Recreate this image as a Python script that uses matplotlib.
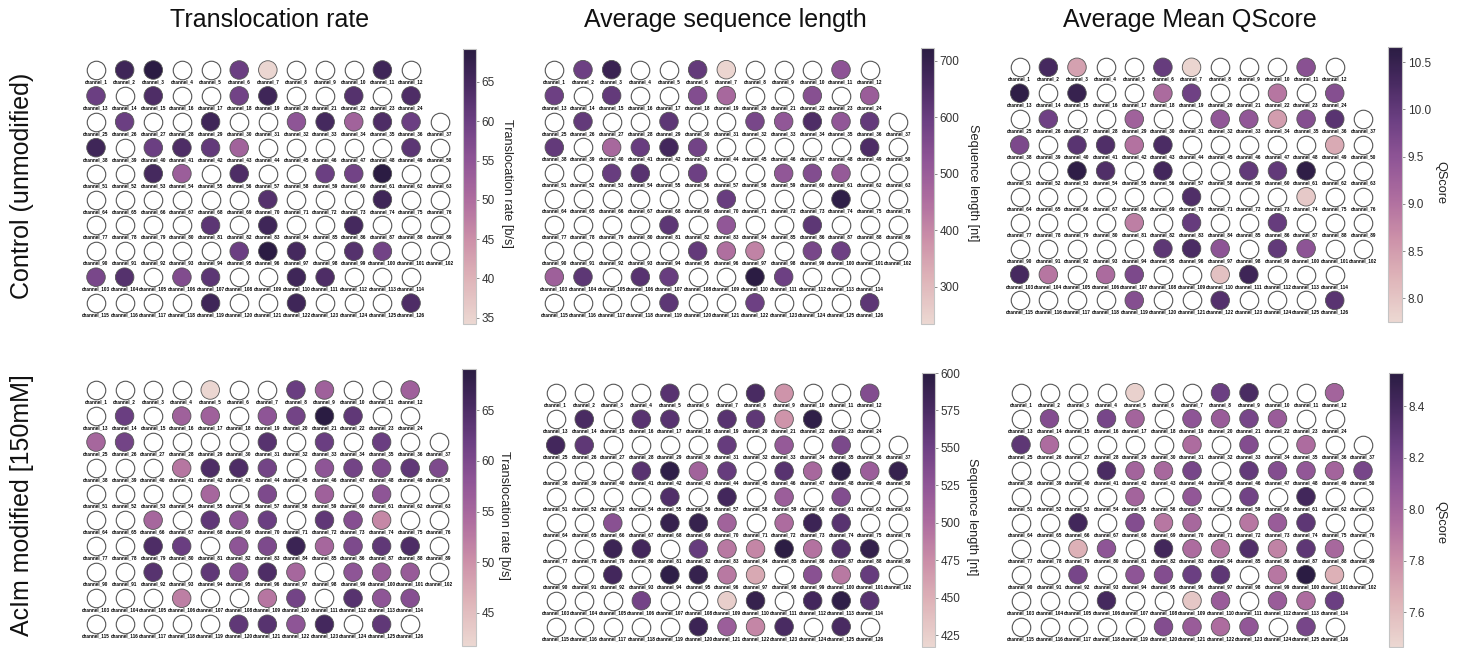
import matplotlib
matplotlib.use("Agg")
import matplotlib.pyplot as plt
import numpy as np
from matplotlib.cm import ScalarMappable
from matplotlib.colors import LinearSegmentedColormap, Normalize

n = np.nan
W, H = 1465, 648

# channels per row of the flow cell
row_sizes = [12, 12, 13, 13, 13, 13, 13, 13, 12, 12]

rate_control = [
    n, 66, 69, n, n, 60, 34.5, n, n, n, 66, n,
    60, n, 64, n, n, 59, 66, n, n, 63, n, 64,
    n, 60, n, n, 66, n, n, 55, 65, 52, 64, 60, n,
    66, n, 60, 64, 61, 52, n, n, n, n, n, 62, n,
    n, n, 65, 53, n, 64, n, n, 60, 59, 69, n, n,
    n, n, n, n, n, n, 63, n, n, n, 66, n, n,
    n, n, n, n, 62, n, 66, n, n, 65, n, n, n,
    n, n, n, n, n, 60, 69, 65, n, 63, 59, n, n,
    58, 63, n, 57, 62, n, n, 66, 64, n, n, n,
    n, n, n, n, 66, n, n, 66, n, n, n, 64,
]
length_control = [
    n, 590, 690, n, n, 610, 240, n, n, n, 530, n,
    590, n, 610, n, n, 550, 470, n, n, 540, n, 500,
    n, 610, n, n, 620, n, n, 570, 520, 650, 520, 610, n,
    610, n, 470, 600, 670, 580, n, n, n, n, n, 650, n,
    n, n, 600, 630, n, 590, n, n, 520, 550, 510, n, n,
    n, n, n, n, n, n, 600, n, n, n, 710, n, n,
    n, n, n, n, 620, n, 520, n, n, 620, n, n, n,
    n, n, n, n, n, 610, 450, 410, n, 570, 590, n, n,
    490, 620, n, 630, 600, n, n, 720, 590, n, n, n,
    n, n, n, n, 620, n, n, 590, n, n, n, 620,
]
qscore_control = [
    n, 10.3, 8.45, n, n, 9.95, 7.8, n, n, n, 9.55, n,
    10.6, n, 10.5, n, n, 9.1, 9.85, n, n, 8.95, n, 9.6,
    n, 9.85, n, n, 9.25, n, n, 9.45, 9.45, 8.5, 9.6, 10.1, n,
    9.7, n, 10.1, 10.2, 9.0, 10.25, n, n, n, n, n, 8.35, n,
    n, n, 10.6, 10.2, n, 10.35, n, n, 10.0, 10.0, 10.6, n, n,
    n, n, n, n, n, n, 10.2, n, n, n, 7.95, n, n,
    n, n, n, n, 8.85, n, 9.95, n, n, 9.95, n, n, n,
    n, n, n, n, n, 10.05, 10.25, 9.5, n, 10.0, 9.5, n, n,
    10.3, 8.95, n, 9.1, 9.7, n, n, 8.05, 10.4, n, n, n,
    n, n, n, n, 9.6, n, n, 10.15, n, n, n, 10.1,
]
rate_aclm = [
    n, n, n, n, 42, n, n, 62, 56, n, n, 56,
    n, 62, n, 56, 56, n, 58, 61, 69, 63, n, n,
    55, 61, n, n, n, n, 64, n, 62, n, 62, n, n,
    n, n, n, 53, 65, 65, 61, n, 58, 61, 60, 63, 60,
    n, n, n, n, 55, n, 60, n, 56, n, 58, n, n,
    n, n, 55, n, 63, 58, 62, n, 63, 59, 51, n, n,
    n, n, 65, 62, n, 58, 60, 67, 55, 60, 63, 65, n,
    n, n, 64, n, 63, 59, 65, 55, n, 58, 57, 57, n,
    n, n, n, 52, n, n, 53, 61, n, 64, 58, 59,
    n, n, n, n, n, 63, 64, 58, 66, n, 63, n,
]
length_aclm = [
    n, n, n, n, 565, n, n, 575, 470, n, n, 535,
    n, 575, n, 565, 565, n, 565, 560, 470, 595, n, n,
    580, 560, n, n, n, n, 555, n, 520, n, 540, n, n,
    n, n, n, 565, 595, 510, 555, n, 565, 505, 595, 515, 590,
    n, n, n, n, 570, n, 580, n, 515, n, 535, n, n,
    n, n, 530, n, 590, 590, 510, n, 500, 585, 565, n, n,
    n, n, 585, 580, n, 555, 490, 480, 598, 495, 570, 592, n,
    n, n, 580, n, 595, 590, 490, 455, n, 530, 490, 555, n,
    n, n, n, 545, n, n, 425, 590, n, 580, 595, 565,
    n, n, n, n, n, 585, 515, 480, 575, n, 575, n,
]
qscore_aclm = [
    n, n, n, n, 7.5, n, n, 8.25, 8.38, n, n, 8.0,
    n, 8.15, n, 8.2, 8.0, n, 8.1, 8.05, 8.2, 8.05, n, n,
    8.3, 7.95, n, n, n, n, 7.95, n, 8.15, n, 7.95, n, n,
    n, n, n, 8.38, 8.0, 7.98, 8.2, n, 8.28, 8.15, 8.08, 8.0, 8.2,
    n, n, n, n, 8.0, n, 8.08, n, 8.22, n, 8.42, n, n,
    n, n, 8.42, n, 8.15, 7.9, 7.98, n, 7.9, 8.05, 8.3, n, n,
    n, n, 7.65, 8.1, n, 8.42, 7.95, 7.92, 8.35, 7.85, 8.3, 7.98, n,
    n, n, 8.2, n, 8.1, 8.15, 8.25, 8.3, n, 7.9, 8.52, 7.65, n,
    n, n, n, 8.4, n, n, 7.55, 8.05, n, 8.05, 7.95, 8.25,
    n, n, n, n, n, 8.15, 8.05, 7.95, 8.08, n, 8.2, n,
]

titles = ["Translocation rate", "Average sequence length", "Average Mean QScore"]
row_labels = ["Control (unmodified)", "AcIm modified [150mM]"]

plt.rcParams["font.family"] = ["Liberation Sans", "DejaVu Sans"]

# colours picked off the reference colorbar
cmap = LinearSegmentedColormap.from_list("plate", [
    (0.0, "#ecd8d2"), (0.166, "#deb3b8"), (0.31, "#cb8fa8"), (0.45, "#ae6d9f"),
    (0.594, "#8f5596"), (0.737, "#6b3f82"), (0.88, "#46295f"), (1.0, "#2a1c42"),
])


def px_axes(fig, left, top, right, bottom):
    return fig.add_axes([left / W, 1 - bottom / H, (right - left) / W, (bottom - top) / H])


def draw_plate(fig, values, grid, cbar_box, limits, ticks, label, label_pos):
    x0, y0, dx, dy = grid
    ax = px_axes(fig, x0 - dx, y0 - dy, x0 + 13 * dx, y0 + 10 * dy)
    ax.set_xlim(-1, 13)
    ax.set_ylim(10, -1)
    ax.axis("off")

    cols, rows, names = [], [], []
    number = 1
    for r, size in enumerate(row_sizes):
        for c in range(size):
            cols.append(c)
            rows.append(r)
            names.append(f"channel_{number}")
            number += 1

    norm = Normalize(limits[0], limits[1])
    vals = np.array(values, dtype=float)
    empty = np.isnan(vals)
    ax.scatter(np.array(cols)[empty], np.array(rows)[empty], s=178, c="white",
               edgecolors="#555555", linewidths=0.8)
    ax.scatter(np.array(cols)[~empty], np.array(rows)[~empty], s=178, c=vals[~empty],
               cmap=cmap, norm=norm, edgecolors="#555555", linewidths=0.6)
    for c, r, name in zip(cols, rows, names):
        ax.text(c, r + 0.46, name, ha="center", va="center", fontsize=3.3,
                fontweight="bold", color="black")

    cax = px_axes(fig, *cbar_box)
    cb = fig.colorbar(ScalarMappable(norm=norm, cmap=cmap), cax=cax)
    cb.set_ticks(ticks)
    cb.ax.tick_params(length=2, width=0.6, color="#777777", pad=2, labelsize=8.5,
                      labelcolor="#333333")
    cb.outline.set_edgecolor("#c4c4c4")
    cb.outline.set_linewidth(0.8)
    fig.text(label_pos[0] / W, 1 - label_pos[1] / H, label, rotation=270, ha="center",
             va="center", fontsize=9.2, color="#222222")


fig = plt.figure(figsize=(W / 100, H / 100), dpi=100, facecolor="white")

draw_plate(fig, rate_control, (96, 70, 28.64, 25.9), (463, 49, 476, 324), (34.2, 69.2),
           [35, 40, 45, 50, 55, 60, 65], "Translocation rate [b/s]", (507, 183))
draw_plate(fig, length_control, (554.3, 69.7, 28.67, 25.9), (921, 48, 934, 324), (234, 723),
           [300, 400, 500, 600, 700], "Sequence length [nt]", (973, 183))
draw_plate(fig, qscore_control, (1019.7, 67.3, 28.64, 25.9), (1388, 47, 1402, 322), (7.75, 10.66),
           [8.0, 8.5, 9.0, 9.5, 10.0, 10.5], "QScore", (1440, 183))
draw_plate(fig, rate_aclm, (96, 390, 28.56, 26.03), (462, 369, 476, 646), (41.7, 69.1),
           [45, 50, 55, 60, 65], "Translocation rate [b/s]", (504, 515))
draw_plate(fig, length_aclm, (555.7, 393.3, 28.55, 25.93), (922, 373, 935, 647), (417, 600),
           [425, 450, 475, 500, 525, 550, 575, 600], "Sequence length [nt]", (972, 517))
draw_plate(fig, qscore_aclm, (1021, 392.7, 28.5, 26), (1389, 373, 1403, 647), (7.466, 8.528),
           [7.6, 7.8, 8.0, 8.2, 8.4], "QScore", (1440, 523))

for title, x in zip(titles, [270, 725, 1190]):
    fig.text(x / W, 1 - 20 / H, title, ha="center", va="center", fontsize=18, color="#111111")
for label, y in zip(row_labels, [186, 505]):
    fig.text(22 / W, 1 - y / H, label, rotation=90, ha="center", va="center", fontsize=18,
             color="#111111")

fig.savefig("out.png", dpi=100)
plt.close(fig)
